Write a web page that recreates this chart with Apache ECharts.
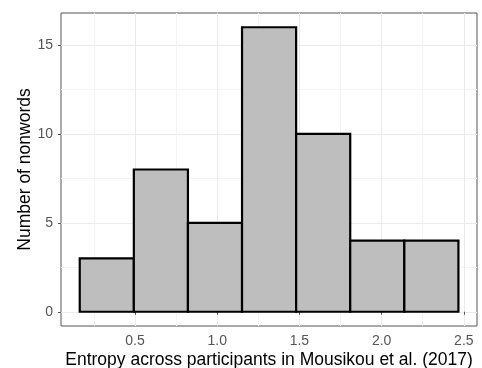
<!DOCTYPE html>
<html>
<head>
<meta charset="utf-8">
<script src="https://cdn.jsdelivr.net/npm/echarts@6/dist/echarts.min.js"></script>
<style>
  html, body { margin: 0; padding: 0; background: #fff; }
  #chart { width: 482px; height: 368px; }
</style>
</head>
<body>
<div id="chart"></div>
<script>
// histogram bins: left edge, right edge, count
var binStart = [0.164, 0.493, 0.822, 1.151, 1.480, 1.809, 2.138];
var binEnd = [0.493, 0.822, 1.151, 1.480, 1.809, 2.138, 2.467];
var counts = [3, 8, 5, 16, 10, 4, 4];

var xTicks = [0.5, 1.0, 1.5, 2.0, 2.5];
var xMinor = [0.25, 0.75, 1.25, 1.75, 2.25];
var yTicks = [0, 5, 10, 15];
var yMinor = [2.5, 7.5, 12.5];

var font = 'Liberation Sans, Arial, sans-serif';
var myChart = echarts.init(document.getElementById('chart'));

var data = binStart.map(function (s, i) { return [s, binEnd[i], counts[i]]; });

var option = {
  animation: false,
  grid: {
    left: 61, right: 5, top: 13, bottom: 42,
    outerBoundsMode: 'none', containLabel: false,
    show: true, borderColor: '#555', borderWidth: 1, backgroundColor: 'transparent'
  },
  xAxis: [{
    type: 'value', min: 0.05, max: 2.58,
    name: 'Entropy across participants in Mousikou et al. (2017)',
    nameLocation: 'middle', nameGap: 25, nameMoveOverlap: false,
    nameTextStyle: { color: '#000', fontSize: 17.5, fontFamily: font },
    axisLine: { show: false },
    axisTick: { show: true, length: 3, lineStyle: { color: '#555' }, customValues: xTicks },
    axisLabel: {
      color: '#555', fontSize: 14, fontFamily: font, margin: 8,
      customValues: xTicks,
      formatter: function (v) { return v.toFixed(1); }
    },
    splitLine: { show: true, lineStyle: { color: '#EBEBEB', width: 1 } }
  }, {
    type: 'value', min: 0.05, max: 2.58, gridIndex: 0, position: 'bottom',
    axisLine: { show: false },
    axisTick: { show: false, customValues: xMinor },
    axisLabel: { show: false, customValues: xMinor },
    splitLine: { show: true, lineStyle: { color: '#F4F4F4', width: 1 } }
  }],
  yAxis: [{
    type: 'value', min: -0.8, max: 16.8,
    name: 'Number of nonwords',
    nameLocation: 'middle', nameGap: 27, nameMoveOverlap: false,
    nameTextStyle: { color: '#000', fontSize: 17.5, fontFamily: font },
    axisLine: { show: false },
    axisTick: { show: true, length: 3, lineStyle: { color: '#555' }, customValues: yTicks },
    axisLabel: { color: '#555', fontSize: 14, fontFamily: font, margin: 8, customValues: yTicks },
    splitLine: { show: true, lineStyle: { color: '#EBEBEB', width: 1 } }
  }, {
    type: 'value', min: -0.8, max: 16.8, gridIndex: 0, position: 'left',
    axisLine: { show: false },
    axisTick: { show: false, customValues: yMinor },
    axisLabel: { show: false, customValues: yMinor },
    splitLine: { show: true, lineStyle: { color: '#F4F4F4', width: 1 } }
  }],
  series: [{
    type: 'custom',
    xAxisIndex: 0, yAxisIndex: 0,
    data: data,
    encode: { x: [0, 1], y: 2 },
    renderItem: function (params, api) {
      var p0 = api.coord([api.value(0), 0]);
      var p1 = api.coord([api.value(1), api.value(2)]);
      return {
        type: 'rect',
        shape: { x: p0[0], y: p1[1], width: p1[0] - p0[0], height: p0[1] - p1[1] },
        style: { fill: '#BEBEBE', stroke: '#000', lineWidth: 2.2 }
      };
    }
  }]
};

myChart.setOption(option);
</script>
</body>
</html>
